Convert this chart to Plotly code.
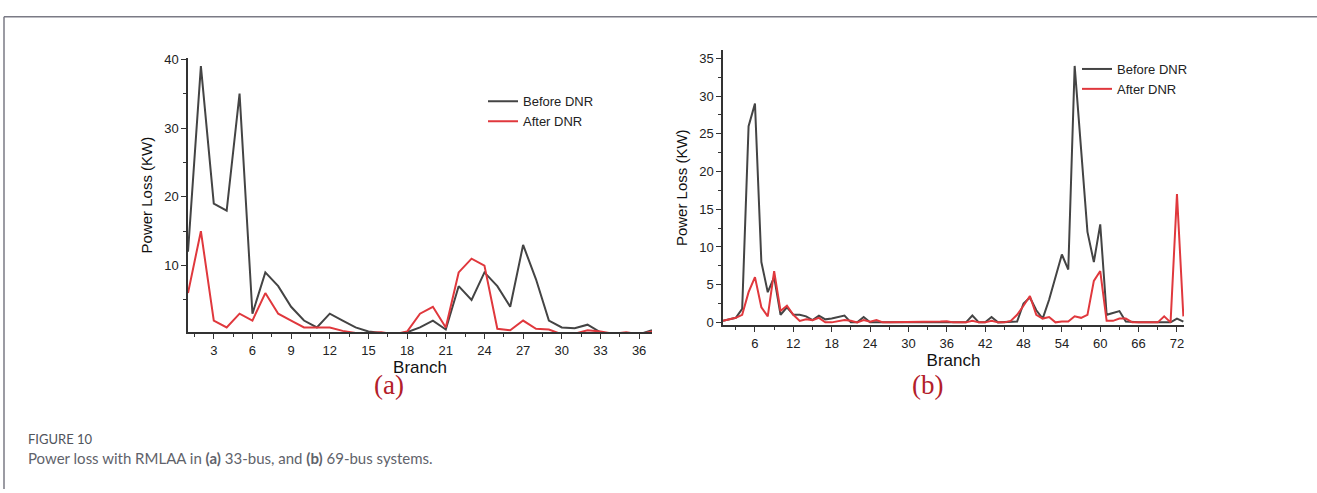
import plotly.graph_objects as go

# ---- data: 33-bus system (branches 1..37) ----
branch_a = list(range(1, 38))
before_a = [12, 39, 19, 18, 35, 3, 9, 7, 4, 2, 1, 3, 2, 1, 0.4, 0.2, 0, 0.3, 1, 2,
            0.7, 7, 5, 9, 7, 4, 13, 8, 2, 1, 0.9, 1.4, 0.3, 0, 0.2, 0, 0.6]
after_a = [6, 15, 2, 1, 3, 2, 6, 3, 2, 1, 1, 1, 0.5, 0.2, 0.2, 0.3, 0, 0.4, 3, 4,
           1, 9, 11, 10, 0.8, 0.6, 2, 0.8, 0.7, 0, 0.1, 0.6, 0.4, 0.1, 0.3, 0, 0.4]

# ---- data: 69-bus system (branches 1..73) ----
branch_b = list(range(1, 74))
before_b = [0.2, 0.4, 0.6, 1.8, 26, 29, 8, 4, 6, 1, 2, 1, 1, 0.8, 0.3, 0.9, 0.4, 0.5, 0.7, 0.9,
            0, 0, 0.7, 0, 0, 0, 0, 0, 0, 0, 0, 0, 0, 0, 0, 0, 0, 0, 0, 0.9,
            0, 0, 0.7, 0, 0, 0, 0.1, 2.5, 3.3, 1.6, 0.5, 3, 6, 9, 7, 34, 23, 12, 8, 13,
            1, 1.3, 1.5, 0.1, 0, 0, 0, 0, 0, 0, 0, 0.5, 0.1]
after_b = [0.2, 0.4, 0.6, 1, 4, 6, 2, 0.8, 6.8, 1.5, 2.2, 1, 0.2, 0.4, 0.3, 0.6, 0, 0, 0.2, 0.3,
           0.2, 0, 0.3, 0.1, 0.3, 0, 0, 0, 0, 0, 0, 0.1, 0.1, 0.1, 0.1, 0.15, 0, 0, 0, 0.2,
           0, 0, 0.2, 0, 0, 0.2, 1, 2.2, 3.5, 1, 0.5, 0.7, 0, 0.1, 0.1, 0.8, 0.6, 1, 5.5, 6.8,
           0.2, 0.2, 0.5, 0.5, 0, 0, 0, 0, 0, 0.8, 0, 17, 0.8]

series_names = ["Before DNR", "After DNR"]
colors = ["#444444", "#e0383d"]

W, H = 1317, 493


def xd(a, b):
    return [a / W, b / W]


def yd(top, bottom):
    return [1 - bottom / H, 1 - top / H]


fig = go.Figure()

fig.add_trace(go.Scatter(x=branch_a, y=before_a, mode="lines", name=series_names[0],
                         line=dict(color=colors[0], width=2), xaxis="x", yaxis="y", legend="legend"))
fig.add_trace(go.Scatter(x=branch_a, y=after_a, mode="lines", name=series_names[1],
                         line=dict(color=colors[1], width=2), xaxis="x", yaxis="y", legend="legend"))
fig.add_trace(go.Scatter(x=branch_b, y=before_b, mode="lines", name=series_names[0],
                         line=dict(color=colors[0], width=2), xaxis="x2", yaxis="y2", legend="legend2"))
fig.add_trace(go.Scatter(x=branch_b, y=after_b, mode="lines", name=series_names[1],
                         line=dict(color=colors[1], width=2), xaxis="x2", yaxis="y2", legend="legend2"))

tickfont = dict(family="Liberation Sans, Arial", size=13, color="#222")
ytitlefont = dict(family="Liberation Sans, Arial", size=15, color="#111")
xtitlefont = dict(family="Liberation Sans, Arial", size=17, color="#111")

axis_common = dict(showgrid=False, zeroline=False, showline=True, linecolor="#333", linewidth=1.5,
                   ticks="outside", ticklen=5, tickwidth=1.2, tickcolor="#333", tickfont=tickfont,
                   mirror=False)

legfont = dict(family="Liberation Sans, Arial", size=13, color="#222")

fig.update_layout(
    width=W, height=H,
    margin=dict(l=0, r=0, t=0, b=0),
    paper_bgcolor="white", plot_bgcolor="white",
    xaxis=dict(domain=xd(188, 652), range=[1, 37], anchor="y",
               tickmode="array", tickvals=list(range(3, 37, 3)),
               minor=dict(tickmode="array", tickvals=[1.5 + 3 * i for i in range(12)],
                          ticks="outside", ticklen=3, tickcolor="#333"),
               title=dict(text="Branch", font=xtitlefont, standoff=4), **axis_common),
    yaxis=dict(domain=yd(53, 333), range=[0.3, 40.2], anchor="x",
               tickmode="array", tickvals=[10, 20, 30, 40],
               minor=dict(tickmode="array", tickvals=[5, 15, 25, 35],
                          ticks="outside", ticklen=3, tickcolor="#333"),
               title=dict(text="Power Loss (KW)", font=ytitlefont, standoff=8), **axis_common),
    xaxis2=dict(domain=xd(723, 1184), range=[1, 73.1], anchor="y2",
                tickmode="array", tickvals=list(range(6, 73, 6)),
                minor=dict(tickmode="array", tickvals=[3 + 6 * i for i in range(12)],
                           ticks="outside", ticklen=3, tickcolor="#333"),
                title=dict(text="Branch", font=xtitlefont, standoff=4), **axis_common),
    yaxis2=dict(domain=yd(45, 326), range=[-0.4, 36.1], anchor="x2",
                tickmode="array", tickvals=list(range(0, 36, 5)),
                minor=dict(tickmode="array", tickvals=[2.5 + 5 * i for i in range(7)],
                           ticks="outside", ticklen=3, tickcolor="#333"),
                title=dict(text="Power Loss (KW)", font=ytitlefont, standoff=8), **axis_common),
    legend=dict(x=483 / W, y=1 - 82 / H, xanchor="left", yanchor="top",
                bgcolor="rgba(0,0,0,0)", font=legfont, tracegroupgap=0, itemwidth=30),
    legend2=dict(x=1077 / W, y=1 - 49 / H, xanchor="left", yanchor="top",
                 bgcolor="rgba(0,0,0,0)", font=legfont, tracegroupgap=0, itemwidth=30),
    showlegend=True,
)

# card frame (left and top border)
fig.add_shape(type="line", xref="paper", yref="paper", x0=4 / W, x1=1, y0=1 - 11 / H, y1=1 - 11 / H,
              line=dict(color="#7a7a85", width=1.5))
fig.add_shape(type="line", xref="paper", yref="paper", x0=4 / W, x1=4 / W, y0=0, y1=1 - 11 / H,
              line=dict(color="#7a7a85", width=1.5))

# panel labels
for lab, px in (("(a)", 389), ("(b)", 927)):
    fig.add_annotation(text=lab, x=px / W, y=1 - 387 / H, xref="paper", yref="paper", showarrow=False,
                       xanchor="center", yanchor="middle",
                       font=dict(family="Liberation Serif, Times New Roman", size=27, color="#b3202a"))

# caption
fig.add_annotation(text="FIGURE 10", x=26 / W, y=1 - 442 / H, xref="paper", yref="paper", showarrow=False,
                   xanchor="left", yanchor="middle", font=dict(family="Lato", size=13, color="#50545c"))
fig.add_annotation(text="Power loss with RMLAA in <b>(a)</b> 33-bus, and <b>(b)</b> 69-bus systems.",
                   x=26 / W, y=1 - 461 / H, xref="paper", yref="paper", showarrow=False,
                   xanchor="left", yanchor="middle", font=dict(family="Lato", size=15, color="#5f636b"))

fig.write_html("out.html", config={"displayModeBar": False},
               post_script="document.body.style.margin='0px';")
